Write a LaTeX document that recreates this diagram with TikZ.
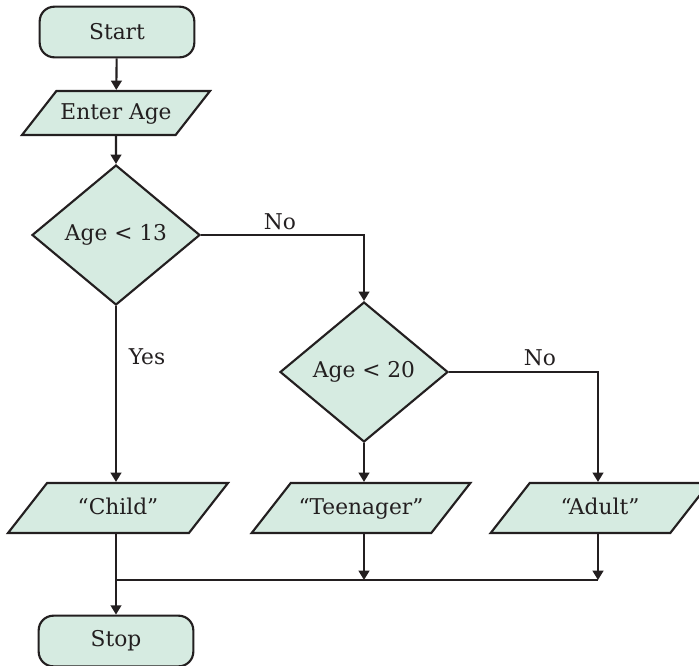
\documentclass[tikz,border=0pt]{standalone}
\usepackage{fontspec}
\setmainfont{DejaVu Serif}
\usetikzlibrary{shapes.geometric,arrows.meta}
\definecolor{boxfill}{RGB}{214,235,225}
\definecolor{ink}{RGB}{35,31,32}
\begin{document}
\begin{tikzpicture}[x=0.75pt,y=-0.75pt,
  every node/.style={font=\fontsize{16.3}{19}\selectfont, text=ink},
  term/.style={draw=ink, fill=boxfill, line width=1.6pt, rounded corners=11pt,
    minimum width=116pt, minimum height=38pt, inner sep=0pt},
  io/.style={draw=ink, fill=boxfill, line width=1.6pt, trapezium,
    trapezium left angle=52, trapezium right angle=128,
    trapezium stretches body, text height=14pt, text depth=4pt, inner xsep=2pt},
  decide/.style={draw=ink, fill=boxfill, line width=1.6pt, diamond,
    minimum width=126pt, minimum height=105pt, inner sep=0pt},
  arr/.style={draw=ink, line width=1.6pt, -{Triangle[length=7pt,width=8pt]}},
  ln/.style={draw=ink, line width=1.6pt},
  lbl/.style={inner sep=1pt}]
\useasboundingbox (0,0) rectangle (699,665);
\node[term] (start) at (117,32) {Start};
\node[io, inner ysep=7.5pt, minimum width=141pt] (enter) at (116,113) {Enter Age};
\node[decide] (d1) at (116,235) {Age < 13};
\node[decide] (d2) at (364,372) {Age < 20};
\node[io, inner ysep=9.75pt, minimum width=165pt] (child) at (118,508) {“Child”};
\node[io, inner ysep=9.75pt, minimum width=164pt] (teen) at (361,508) {“Teenager”};
\node[io, inner ysep=9.75pt, minimum width=164pt] (adult) at (600,508) {“Adult”};
\node[term] (stop) at (116,641) {Stop};
\coordinate (mL) at (116,580);
\coordinate (mR) at (598,580);
\draw[arr] (start) -- (enter);
\draw[arr] (enter) -- (d1);
\draw[arr] (d1.east) -| (d2.north);
\draw[arr] (d1.south) -- (child.north -| d1.south);
\draw[arr] (d2.south) -- (teen.north -| d2.south);
\draw[arr] (d2.east) -| (adult.north -| mR);
\draw[ln] (mL) -- (mR);
\draw[arr] (child.south -| mL) -- (stop.north -| mL);
\draw[arr] (teen.south -| d2.south) -- (mL -| d2.south);
\draw[arr] (adult.south -| mR) -- (mR);
\node[lbl] (no1) at (280,222) {No};
\node[lbl] (no2) at (540,358) {No};
\node[lbl] (yes) at (147,357) {Yes};
\end{tikzpicture}
\end{document}
